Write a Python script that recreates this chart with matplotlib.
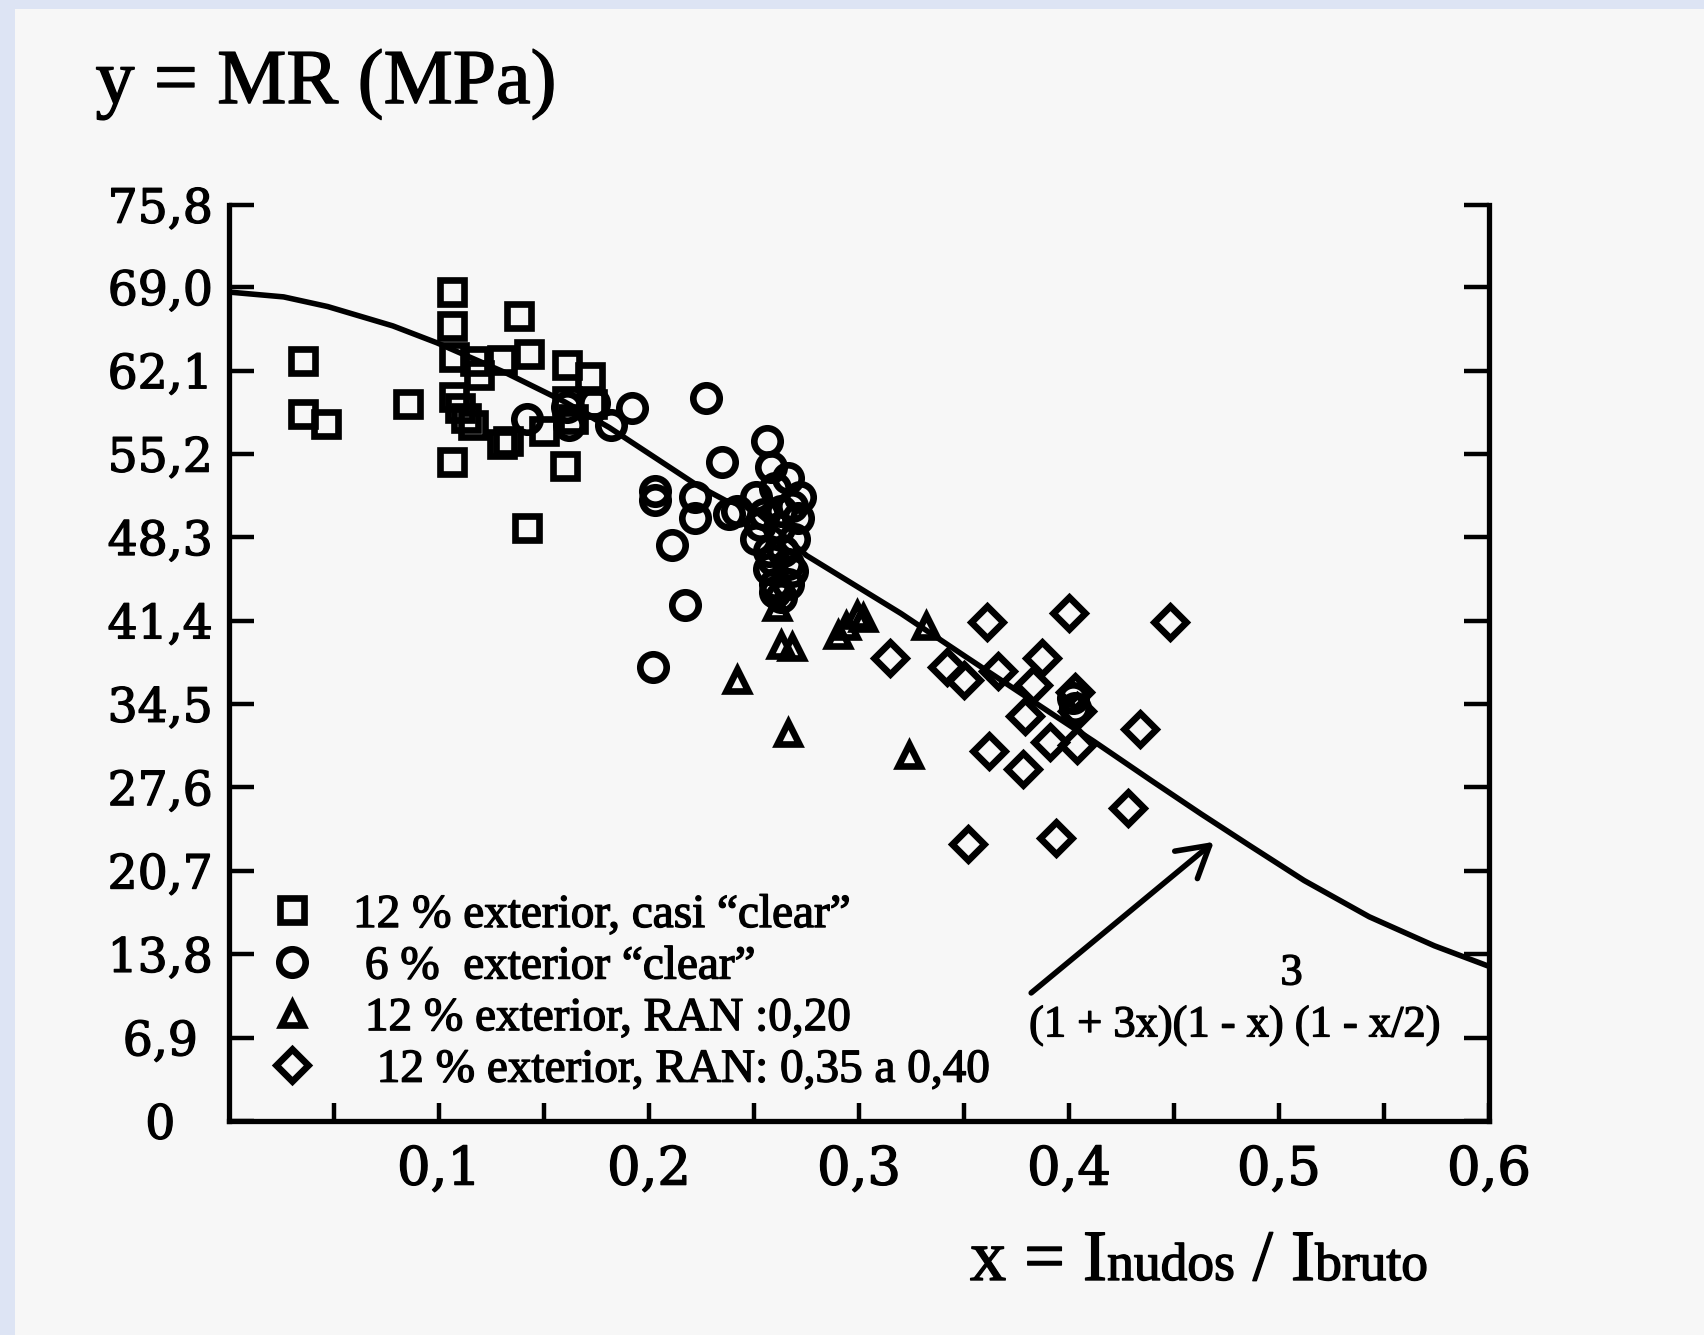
import matplotlib
matplotlib.use('Agg')
import matplotlib.pyplot as plt
import matplotlib.patheffects as pe
from matplotlib.patches import Rectangle

plt.rcParams['font.family'] = ['Liberation Serif', 'DejaVu Serif']

# values (x = I nudos / I bruto, y = MR in MPa)
sq_x = [0.035, 0.035, 0.046, 0.085, 0.106, 0.106, 0.107, 0.117, 0.130, 0.138,
        0.143, 0.161, 0.172, 0.106, 0.160, 0.142, 0.107, 0.110, 0.113, 0.116,
        0.119, 0.130, 0.133, 0.150, 0.161, 0.164, 0.173]
sq_y = [62.9, 58.5, 57.7, 59.3, 68.6, 65.8, 63.2, 62.9, 63.0, 66.6,
        63.5, 62.6, 61.6, 54.5, 54.2, 49.1, 59.9, 59.0, 58.2, 57.6,
        61.7, 56.0, 56.3, 57.1, 59.6, 58.1, 59.3]

circ_x = [0.142, 0.161, 0.162, 0.174, 0.182, 0.192, 0.227, 0.235, 0.203, 0.203,
          0.222, 0.222, 0.211, 0.217, 0.202, 0.238, 0.256, 0.258, 0.251, 0.260,
          0.266, 0.272, 0.253, 0.263, 0.271, 0.251, 0.257, 0.264, 0.269, 0.257,
          0.266, 0.260, 0.266, 0.260, 0.402, 0.403, 0.242, 0.255, 0.262, 0.268,
          0.259, 0.268, 0.263]
circ_y = [58.1, 59.1, 57.6, 59.4, 57.6, 59.0, 59.8, 54.5, 52.1, 51.4,
          51.6, 49.9, 47.7, 42.7, 37.6, 50.2, 56.3, 54.1, 51.6, 52.4,
          53.2, 51.6, 49.3, 50.5, 49.9, 48.2, 47.2, 47.2, 48.2, 45.7,
          46.1, 44.4, 44.4, 43.8, 35.0, 34.2, 50.5, 50.2, 49.1, 50.9,
          46.4, 45.5, 43.4]

tri_x = [0.261, 0.263, 0.268, 0.242, 0.266, 0.290, 0.294, 0.299, 0.302, 0.332, 0.324]
tri_y = [42.5, 39.4, 39.2, 36.5, 32.1, 40.2, 41.0, 41.9, 41.6, 41.0, 30.3]

dia_x = [0.361, 0.400, 0.448, 0.315, 0.342, 0.350, 0.366, 0.387, 0.383, 0.403,
         0.404, 0.379, 0.391, 0.404, 0.434, 0.362, 0.378, 0.428, 0.394, 0.352]
dia_y = [41.3, 42.0, 41.3, 38.3, 37.6, 36.5, 37.2, 38.3, 36.1, 35.5,
         33.9, 33.5, 31.4, 31.1, 32.4, 30.6, 29.1, 25.9, 23.4, 22.9]

curve_x = [0.0, 0.026, 0.047, 0.078, 0.099, 0.132, 0.160, 0.181, 0.209, 0.223,
           0.237, 0.248, 0.275, 0.320, 0.351, 0.391, 0.412, 0.439, 0.463, 0.486,
           0.512, 0.543, 0.574, 0.600]
curve_y = [68.6, 68.2, 67.4, 65.8, 64.4, 61.9, 59.5, 57.4, 54.2, 52.6,
           51.3, 50.9, 46.8, 42.0, 38.4, 33.8, 31.4, 28.2, 25.4, 22.8,
           19.9, 16.9, 14.5, 12.8]

y_ticks = [0, 6.9, 13.8, 20.7, 27.6, 34.5, 41.4, 48.3, 55.2, 62.1, 69.0, 75.8]
y_tick_labels = ["0", "6,9", "13,8", "20,7", "27,6", "34,5", "41,4", "48,3",
                 "55,2", "62,1", "69,0", "75,8"]
x_ticks = [0.05, 0.1, 0.15, 0.2, 0.25, 0.3, 0.35, 0.4, 0.45, 0.5, 0.55, 0.6]
x_tick_labels = ["", "0,1", "", "0,2", "", "0,3", "", "0,4", "", "0,5", "", "0,6"]

legend_labels = ["12 % exterior, casi \u201cclear\u201d",
                 " 6 %  exterior \u201cclear\u201d",
                 " 12 % exterior, RAN :0,20",
                 "  12 % exterior, RAN: 0,35 a 0,40"]

ink = [pe.withStroke(linewidth=1.0, foreground='black')]

fig = plt.figure(figsize=(17.04, 13.35), dpi=100)
fig.patch.set_facecolor('#dde4f4')
fig.add_artist(Rectangle((15 / 1704, 0), 1, 1 - 9 / 1335, transform=fig.transFigure,
                         facecolor='#f7f7f7', edgecolor='none', zorder=-10))

ax = fig.add_axes([0.1344, 0.1603, 0.7394, 0.6861])
ax.set_facecolor('none')

mk = dict(linestyle='none', markerfacecolor='none', markeredgecolor='black',
          markeredgewidth=4.8)
h1, = ax.plot(sq_x, sq_y, marker='s', markersize=17.5, **mk)
h2, = ax.plot(circ_x, circ_y, marker='o', markersize=19, **mk)
h3, = ax.plot(tri_x, tri_y, marker='^', markersize=16, **mk)
h4, = ax.plot(dia_x, dia_y, marker='D', markersize=16.5, **mk)

ax.plot(curve_x, curve_y, color='black', linewidth=4, zorder=3)

ax.set_xlim(0, 0.6)
ax.set_ylim(0, 75.8)

for side in ['left', 'right', 'bottom']:
    ax.spines[side].set_linewidth(3.8)
ax.spines['top'].set_visible(False)

ax.set_yticks(y_ticks)
ax.set_yticklabels(y_tick_labels, fontfamily='DejaVu Serif', ha='center')
ax.set_xticks(x_ticks)
ax.set_xticklabels(x_tick_labels, fontfamily='DejaVu Serif')
ax.tick_params(axis='y', direction='in', length=18, width=3.2, labelsize=34,
               pad=49.5, left=True, right=True)
ax.tick_params(axis='x', direction='in', length=13, width=3.2, labelsize=38, pad=17)

leg = ax.legend([h1, h2, h3, h4], legend_labels, loc='lower left',
                bbox_to_anchor=(0.031, 0.032), frameon=False, fontsize=34,
                handlelength=1.0, handletextpad=0.8, labelspacing=0.18,
                borderpad=0, borderaxespad=0)

# fitted curve formula and its arrow
ax.annotate('', xy=(0.469, 23.1), xytext=(0.382, 10.6),
            arrowprops=dict(arrowstyle='->,head_length=0.55,head_width=0.32',
                            lw=4, color='black', mutation_scale=40,
                            shrinkA=0, shrinkB=0))
eq = ax.text(0.381, 7.0, "(1 + 3x)(1 - x) (1 - x/2)", fontsize=32,
             va='baseline', ha='left')
ex = ax.text(0.506, 11.3, "3", fontsize=32, va='baseline', ha='center')

title = fig.text(0.0561, 0.9228, "y = MR (MPa)", fontsize=56, va='baseline', ha='left')

# x label: big and small pieces placed one after the other
fig.canvas.draw()
renderer = fig.canvas.get_renderer()
pieces = [("x = I", 52), ("nudos", 38.5), (" / I", 52), ("bruto", 38.5)]
xpos = 970 / 1704
label_parts = []
for s, size in pieces:
    t = fig.text(xpos, 0.0412, s, fontsize=size, va='baseline', ha='left')
    bb = t.get_window_extent(renderer)
    xpos = bb.x1 / fig.bbox.width
    label_parts.append(t)

for t in (ax.get_xticklabels() + ax.get_yticklabels() + leg.get_texts()
          + [eq, ex, title] + label_parts):
    t.set_path_effects(ink)

fig.savefig("out.png", dpi=100, facecolor=fig.get_facecolor())
